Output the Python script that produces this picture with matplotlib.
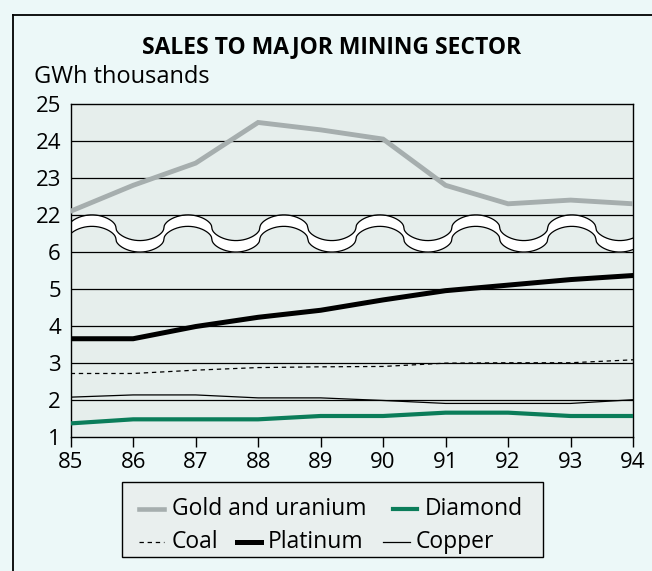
import numpy as np
import matplotlib
matplotlib.use('Agg')
from matplotlib import pyplot as plt
from matplotlib.lines import Line2D
from matplotlib.patches import Rectangle

plt.rcParams['font.family'] = ['Open Sans', 'DejaVu Sans']

years = [85, 86, 87, 88, 89, 90, 91, 92, 93, 94]
year_labels = ['85', '86', '87', '88', '89', '90', '91', '92', '93', '94']

gold = [22.1, 22.8, 23.4, 24.5, 24.3, 24.05, 22.8, 22.3, 22.4, 22.3]
platinum = [3.65, 3.65, 3.98, 4.23, 4.42, 4.7, 4.95, 5.1, 5.25, 5.36]
coal = [2.71, 2.71, 2.8, 2.87, 2.89, 2.9, 2.99, 3.0, 3.0, 3.08]
copper = [2.07, 2.13, 2.13, 2.05, 2.05, 1.98, 1.9, 1.9, 1.9, 2.0]
diamond = [1.36, 1.47, 1.47, 1.47, 1.56, 1.56, 1.65, 1.65, 1.56, 1.56]

low_ticks = [1, 2, 3, 4, 5, 6]
high_ticks = [22, 23, 24, 25]

# upper segment (22-25) is shifted down to sit just above the break band 6-7
shift = 15

bg = '#ecf8f8'
plot_bg = '#e6eeec'
gold_col = '#a6aeae'
diamond_col = '#0b7d5a'


def pos(v):
    v = np.asarray(v, dtype=float)
    return np.where(v >= 22 - 0.5, v - shift, v)


fig = plt.figure(figsize=(6.52, 5.71), dpi=100, facecolor=bg)
ax = fig.add_axes([0.1084, 0.2352, 0.8625, 0.5827])
ax.set_facecolor(plot_bg)

ax.set_xlim(85, 94)
ax.set_ylim(1, 10)

# grid
for g in [2, 3, 4, 5, 6, 7, 8, 9]:
    ax.axhline(g, color='black', lw=0.9, zorder=1)

# break band
xs = np.linspace(85, 94, 800)
t = 2 * np.pi * (xs - 85.34) / 1.536
c = np.cos(t)
f = np.sign(c) * np.abs(c) ** 0.5
upper = 6.6525 + 0.3475 * f
lower = upper - 0.31
ax.fill_between(xs, lower, upper, color='white', zorder=2, lw=0)
ax.plot(xs, upper, color='black', lw=0.9, zorder=3)
ax.plot(xs, lower, color='black', lw=0.9, zorder=3)

ax.plot(years, pos(gold), color=gold_col, lw=3.5, zorder=4, solid_joinstyle='miter')
ax.plot(years, pos(diamond), color=diamond_col, lw=3.0, zorder=4)
ax.plot(years, pos(coal), color='black', lw=0.9, ls=(0, (3.5, 3)), zorder=4)
ax.plot(years, pos(platinum), color='black', lw=3.6, zorder=4)
ax.plot(years, pos(copper), color='black', lw=0.9, zorder=4)

ax.set_xticks(years)
ax.set_xticklabels(year_labels)
yt = list(low_ticks) + [h - shift for h in high_ticks]
ax.set_yticks(yt)
ax.set_yticklabels([str(v) for v in low_ticks + high_ticks])
ax.tick_params(axis='x', direction='out', length=7, width=1, colors='black',
               labelsize=16, pad=4)
ax.tick_params(axis='y', length=0, labelsize=16, pad=7)
for s in ax.spines.values():
    s.set_color('black')
    s.set_linewidth(1.0)

fig.text(0.509, 0.918, 'SALES TO MAJOR MINING SECTOR', ha='center', va='center',
         fontsize=16.5, fontweight='bold')
fig.text(0.052, 0.865, 'GWh thousands', ha='left', va='center', fontsize=17)

# outer frame
fig.add_artist(Line2D([12.5 / 652, 12.5 / 652], [0, 1 - 15 / 571],
                      transform=fig.transFigure, color='black', lw=1.3))
fig.add_artist(Line2D([12.5 / 652, 1], [1 - 15 / 571, 1 - 15 / 571],
                      transform=fig.transFigure, color='black', lw=1.3))

# legend
W, H = 652.0, 571.0
fig.add_artist(Rectangle((122 / W, 1 - 557 / H), (543 - 122) / W, (557 - 482) / H,
                         transform=fig.transFigure, facecolor='#e9efee',
                         edgecolor='black', lw=1.0))
entries = [
    ('Gold and uranium', dict(color=gold_col, lw=3.3), 139, 164, 172, 509),
    ('Diamond', dict(color=diamond_col, lw=3.0), 393, 417, 425, 509),
    ('Coal', dict(color='black', lw=0.9, ls=(0, (3.5, 3))), 139, 164, 172, 542),
    ('Platinum', dict(color='black', lw=3.6), 237, 261, 268, 542),
    ('Copper', dict(color='black', lw=0.9), 383, 410, 416, 542),
]
for label, style, x0, x1, tx, yy in entries:
    fig.add_artist(Line2D([x0 / W, x1 / W], [1 - yy / H, 1 - yy / H],
                          transform=fig.transFigure, **style))
    fig.text(tx / W, 1 - yy / H, label, ha='left', va='center', fontsize=16.5)

fig.savefig('out.png', dpi=100, facecolor=bg)
